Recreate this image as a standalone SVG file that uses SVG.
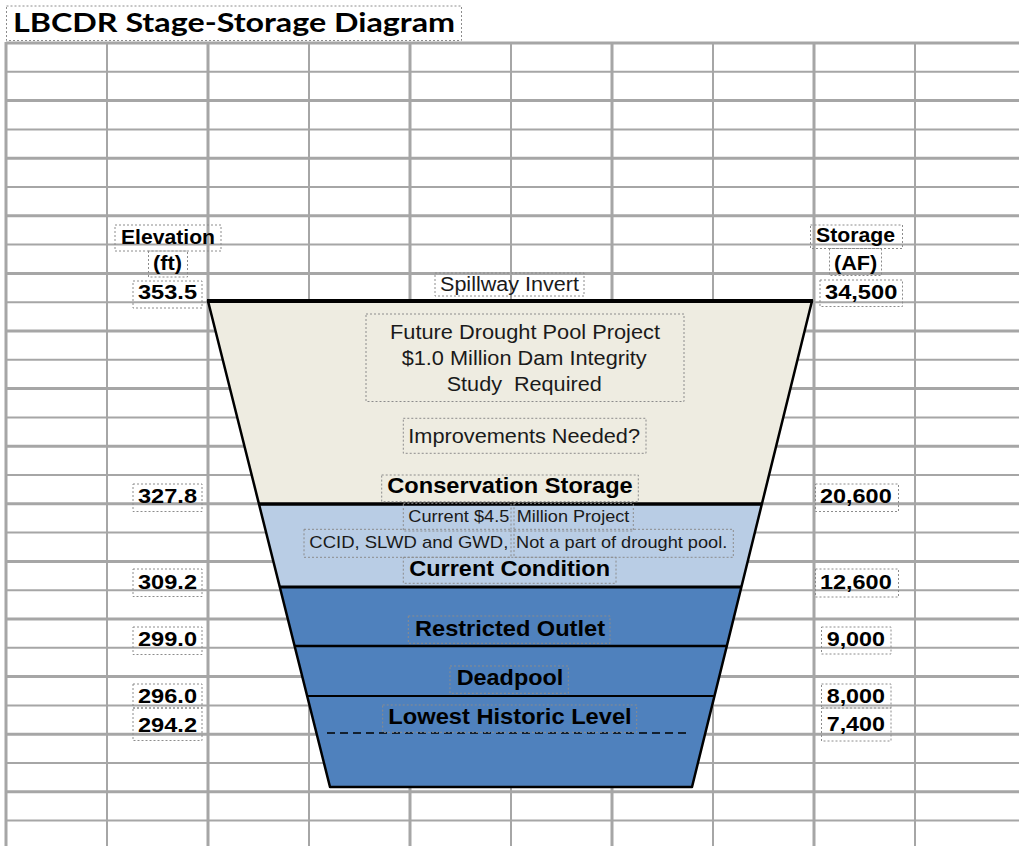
<svg xmlns="http://www.w3.org/2000/svg" width="1019" height="846" viewBox="0 0 1019 846">
  <style>
    .gthick { stroke: #a6a6a6; stroke-width: 3; }
    .gthin { stroke: #a6a6a6; stroke-width: 2; }
    .box { fill: none; stroke: #8c8c8c; stroke-width: 1; stroke-dasharray: 2 2; }
    .lbl { font-family: "Liberation Sans", Arial, sans-serif; font-weight: bold; font-size: 21px; fill: #000; }
    .note { font-family: "Liberation Sans", Arial, sans-serif; font-size: 20px; fill: #1a1a1a; }
    .small { font-family: "Liberation Sans", Arial, sans-serif; font-size: 17px; fill: #1a1a1a; }
    .zone { font-family: "Liberation Sans", Arial, sans-serif; font-weight: bold; font-size: 22px; fill: #000; }
    .edge { fill: none; stroke: #000; stroke-linejoin: round; }
  </style>

  <rect x="0" y="0" width="1019" height="846" fill="#ffffff"/>

  <!-- Title -->
  <g id="title">
    <rect class="box" x="6.5" y="6" width="455" height="34.5"/>
    <text x="13" y="31.7" font-family="Lato, 'Open Sans', sans-serif" font-weight="bold" font-size="26" textLength="442" lengthAdjust="spacingAndGlyphs" fill="#000">LBCDR Stage-Storage Diagram</text>
  </g>

  <!-- Worksheet grid -->
  <g id="grid">
    <line class="gthick" x1="6" y1="43" x2="1019" y2="43"/>
    <line class="gthin" x1="6" y1="71.8" x2="1019" y2="71.8"/>
    <line class="gthick" x1="6" y1="100.6" x2="1019" y2="100.6"/>
    <line class="gthin" x1="6" y1="129.4" x2="1019" y2="129.4"/>
    <line class="gthick" x1="6" y1="158.2" x2="1019" y2="158.2"/>
    <line class="gthin" x1="6" y1="187" x2="1019" y2="187"/>
    <line class="gthick" x1="6" y1="215.8" x2="1019" y2="215.8"/>
    <line class="gthin" x1="6" y1="244.6" x2="1019" y2="244.6"/>
    <line class="gthick" x1="6" y1="273.4" x2="1019" y2="273.4"/>
    <line class="gthin" x1="6" y1="302.2" x2="1019" y2="302.2"/>
    <line class="gthick" x1="6" y1="331" x2="1019" y2="331"/>
    <line class="gthin" x1="6" y1="359.8" x2="1019" y2="359.8"/>
    <line class="gthick" x1="6" y1="388.6" x2="1019" y2="388.6"/>
    <line class="gthin" x1="6" y1="417.4" x2="1019" y2="417.4"/>
    <line class="gthick" x1="6" y1="446.2" x2="1019" y2="446.2"/>
    <line class="gthin" x1="6" y1="475" x2="1019" y2="475"/>
    <line class="gthick" x1="6" y1="503.8" x2="1019" y2="503.8"/>
    <line class="gthin" x1="6" y1="532.6" x2="1019" y2="532.6"/>
    <line class="gthick" x1="6" y1="561.4" x2="1019" y2="561.4"/>
    <line class="gthin" x1="6" y1="590.2" x2="1019" y2="590.2"/>
    <line class="gthick" x1="6" y1="619" x2="1019" y2="619"/>
    <line class="gthin" x1="6" y1="647.8" x2="1019" y2="647.8"/>
    <line class="gthick" x1="6" y1="676.6" x2="1019" y2="676.6"/>
    <line class="gthin" x1="6" y1="705.4" x2="1019" y2="705.4"/>
    <line class="gthick" x1="6" y1="734.2" x2="1019" y2="734.2"/>
    <line class="gthin" x1="6" y1="763" x2="1019" y2="763"/>
    <line class="gthick" x1="6" y1="791.8" x2="1019" y2="791.8"/>
    <line class="gthin" x1="6" y1="820.6" x2="1019" y2="820.6"/>

    <line class="gthick" x1="6" y1="42" x2="6" y2="846"/>
    <line class="gthin" x1="107" y1="42" x2="107" y2="846"/>
    <line class="gthick" x1="208" y1="42" x2="208" y2="846"/>
    <line class="gthin" x1="309" y1="42" x2="309" y2="846"/>
    <line class="gthick" x1="410" y1="42" x2="410" y2="846"/>
    <line class="gthin" x1="511" y1="42" x2="511" y2="846"/>
    <line class="gthick" x1="612" y1="42" x2="612" y2="846"/>
    <line class="gthin" x1="713" y1="42" x2="713" y2="846"/>
    <line class="gthick" x1="814" y1="42" x2="814" y2="846"/>
    <line class="gthin" x1="915" y1="42" x2="915" y2="846"/>
  </g>

  <!-- Reservoir pool, stacked by elevation band -->
  <g id="pool">
    <polygon id="conservation-band" points="208,301 812,301 761.9,504 259,504" fill="#eeece1"/>
    <polygon id="current-band" points="259,504 761.9,504 741.4,587 279.8,587" fill="#b9cde5"/>
    <polygon id="lower-band" points="279.8,587 741.4,587 692,787 330,787" fill="#4f81bd"/>
    <polygon class="edge" points="208,301 812,301 692,787 330,787" stroke-width="2.5"/>
    <line x1="207" y1="301" x2="813" y2="301" stroke="#000" stroke-width="4"/>
    <line x1="259" y1="504" x2="761.9" y2="504" stroke="#000" stroke-width="3.5"/>
    <line x1="279.8" y1="587" x2="741.4" y2="587" stroke="#000" stroke-width="3"/>
    <line x1="294.6" y1="646" x2="726.8" y2="646" stroke="#000" stroke-width="2.5"/>
    <line x1="307.1" y1="696" x2="714.5" y2="696" stroke="#000" stroke-width="2.2"/>
  </g>

  <g id="connectors">
    <line id="lowest-level-mark" x1="327" y1="733" x2="690" y2="733" stroke="#000" stroke-width="1.6" stroke-dasharray="8 5"/>
  </g>

  <!-- Elevation column -->
  <g id="elevation-head">
    <rect class="box" x="115" y="225" width="106" height="26"/>
    <text class="lbl" x="121" y="243.5" font-size="20" textLength="94" lengthAdjust="spacingAndGlyphs">Elevation</text>
    <rect class="box" x="148.5" y="251" width="39" height="26"/>
    <text class="lbl" x="153" y="270" font-size="20" textLength="29" lengthAdjust="spacingAndGlyphs">(ft)</text>
  </g>
  <g id="elev-353">
    <rect class="box" x="133" y="281" width="69" height="27"/>
    <text class="lbl" x="138" y="299" textLength="59" lengthAdjust="spacingAndGlyphs">353.5</text>
  </g>
  <g id="elev-327">
    <rect class="box" x="133" y="484" width="69" height="27.5"/>
    <text class="lbl" x="138" y="503.3" textLength="59" lengthAdjust="spacingAndGlyphs">327.8</text>
  </g>
  <g id="elev-309">
    <rect class="box" x="133" y="569" width="69" height="27.5"/>
    <text class="lbl" x="138" y="589" textLength="59" lengthAdjust="spacingAndGlyphs">309.2</text>
  </g>
  <g id="elev-299">
    <rect class="box" x="133" y="627" width="69" height="27.5"/>
    <text class="lbl" x="138" y="646" textLength="59" lengthAdjust="spacingAndGlyphs">299.0</text>
  </g>
  <g id="elev-296">
    <rect class="box" x="133" y="684" width="69" height="24"/>
    <text class="lbl" x="138" y="703.3" textLength="59" lengthAdjust="spacingAndGlyphs">296.0</text>
  </g>
  <g id="elev-294">
    <rect class="box" x="133" y="708" width="69" height="32.5"/>
    <text class="lbl" x="138" y="731.7" textLength="59" lengthAdjust="spacingAndGlyphs">294.2</text>
  </g>

  <!-- Storage column -->
  <g id="storage-head">
    <rect class="box" x="810.5" y="225" width="92" height="23.5"/>
    <text class="lbl" x="816" y="242.3" font-size="20" textLength="79" lengthAdjust="spacingAndGlyphs">Storage</text>
    <rect class="box" x="829.5" y="248.5" width="52" height="27"/>
    <text class="lbl" x="834" y="270" font-size="20" textLength="43.3" lengthAdjust="spacingAndGlyphs">(AF)</text>
  </g>
  <g id="stor-34500">
    <rect class="box" x="820" y="280" width="82.5" height="26.5"/>
    <text class="lbl" x="825" y="298.5" textLength="72.3" lengthAdjust="spacingAndGlyphs">34,500</text>
  </g>
  <g id="stor-20600">
    <rect class="box" x="815.5" y="484" width="83" height="27.5"/>
    <text class="lbl" x="820" y="503" textLength="71.7" lengthAdjust="spacingAndGlyphs">20,600</text>
  </g>
  <g id="stor-12600">
    <rect class="box" x="815.5" y="569" width="83" height="28"/>
    <text class="lbl" x="820" y="589" textLength="71.7" lengthAdjust="spacingAndGlyphs">12,600</text>
  </g>
  <g id="stor-9000">
    <rect class="box" x="821.5" y="627" width="69.5" height="27"/>
    <text class="lbl" x="826.7" y="646" textLength="58.3" lengthAdjust="spacingAndGlyphs">9,000</text>
  </g>
  <g id="stor-8000">
    <rect class="box" x="821.5" y="684" width="69.5" height="24"/>
    <text class="lbl" x="826.7" y="703" textLength="58.3" lengthAdjust="spacingAndGlyphs">8,000</text>
  </g>
  <g id="stor-7400">
    <rect class="box" x="821.5" y="708" width="69.5" height="33"/>
    <text class="lbl" x="826.7" y="731" textLength="58.3" lengthAdjust="spacingAndGlyphs">7,400</text>
  </g>

  <!-- Pool annotations -->
  <g id="spillway">
    <rect class="box" x="435" y="273" width="149" height="23"/>
    <text class="note" x="440" y="291" font-size="19" textLength="139" lengthAdjust="spacingAndGlyphs">Spillway Invert</text>
  </g>
  <g id="future-project">
    <rect class="box" x="366" y="314" width="318" height="87.5"/>
    <text class="note" x="390" y="339.3" textLength="270" lengthAdjust="spacingAndGlyphs">Future Drought Pool Project</text>
    <text class="note" x="401.7" y="365.3" textLength="245" lengthAdjust="spacingAndGlyphs">$1.0 Million Dam Integrity</text>
    <text class="note" x="446.7" y="390.7" textLength="155" lengthAdjust="spacingAndGlyphs" style="white-space:pre">Study  Required</text>
  </g>
  <g id="improvements">
    <rect class="box" x="403.3" y="418.3" width="242.7" height="35"/>
    <text class="note" x="408.3" y="443" textLength="231.7" lengthAdjust="spacingAndGlyphs">Improvements Needed?</text>
  </g>
  <g id="conservation-storage">
    <rect class="box" x="381.7" y="475" width="256.6" height="26.7"/>
    <text class="zone" x="387.3" y="493.3" textLength="245.4" lengthAdjust="spacingAndGlyphs">Conservation Storage</text>
  </g>
  <g id="current-project">
    <rect class="box" x="403.3" y="503.3" width="107.7" height="27.7"/>
    <text class="small" x="408.3" y="521.7" textLength="101" lengthAdjust="spacingAndGlyphs">Current $4.5</text>
    <rect class="box" x="514" y="503.3" width="119.3" height="27.7"/>
    <text class="small" x="516.7" y="521.7" textLength="112.6" lengthAdjust="spacingAndGlyphs">Million Project</text>
    <rect class="box" x="304" y="529.3" width="207" height="28"/>
    <text class="small" x="309.3" y="548.3" textLength="199" lengthAdjust="spacingAndGlyphs">CCID, SLWD and GWD,</text>
    <rect class="box" x="514" y="529.3" width="219.3" height="28"/>
    <text class="small" x="516" y="548.3" textLength="211.3" lengthAdjust="spacingAndGlyphs">Not a part of drought pool.</text>
  </g>
  <g id="current-condition">
    <rect class="box" x="403.3" y="557.3" width="212.7" height="26"/>
    <text class="zone" x="409.3" y="576" textLength="200.7" lengthAdjust="spacingAndGlyphs">Current Condition</text>
  </g>
  <g id="restricted-outlet">
    <rect class="box" x="408.3" y="616" width="201.7" height="27.3"/>
    <text class="zone" x="415" y="636" font-size="23" textLength="190" lengthAdjust="spacingAndGlyphs">Restricted Outlet</text>
  </g>
  <g id="deadpool">
    <rect class="box" x="450" y="666" width="118.3" height="27.3"/>
    <text class="zone" x="456.7" y="685" font-size="23" textLength="106.6" lengthAdjust="spacingAndGlyphs">Deadpool</text>
  </g>
  <g id="lowest-historic">
    <rect class="box" x="382.7" y="705" width="254" height="27.3"/>
    <text class="zone" x="388.3" y="724" font-size="23" textLength="243.4" lengthAdjust="spacingAndGlyphs">Lowest Historic Level</text>
  </g>
</svg>
